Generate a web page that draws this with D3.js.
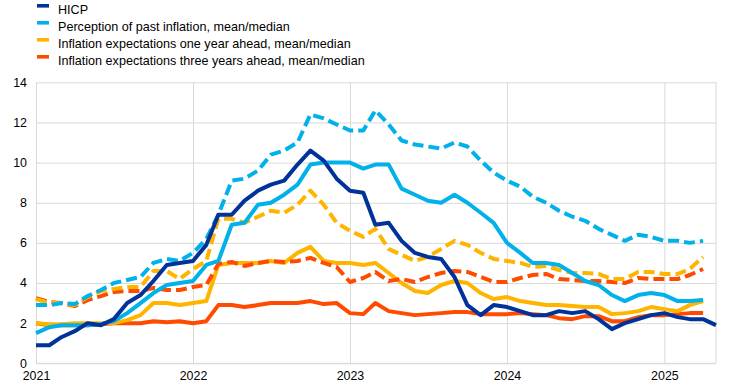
<!DOCTYPE html>
<html>
<head>
<meta charset="utf-8">
<script src="https://cdn.jsdelivr.net/npm/d3@7"></script>
<style>
    body { margin: 0; background: #fff; }
    text { font-family: Arial, "Liberation Sans", sans-serif; }
</style>
</head>
<body>
<div id="chart"></div>
<script>
// data: monthly, starting January 2021
const startMonth = new Date(2021, 0, 1);
const yearTicks = ['2021', '2022', '2023', '2024', '2025'];
const yTicks = [0, 2, 4, 6, 8, 10, 12, 14];

const seriesNames = [
    'HICP',
    'Perception of past inflation, mean/median',
    'Inflation expectations one year ahead, mean/median',
    'Inflation expectations three years ahead, mean/median'
];

const hicp = [0.9, 0.9, 1.3, 1.6, 2.0, 1.9, 2.2, 3.0, 3.4, 4.1, 4.9, 5.0,
    5.1, 5.9, 7.4, 7.4, 8.1, 8.6, 8.9, 9.1, 9.9, 10.6, 10.1, 9.2,
    8.6, 8.5, 6.9, 7.0, 6.1, 5.5, 5.3, 5.2, 4.3, 2.9, 2.4, 2.9,
    2.8, 2.6, 2.4, 2.4, 2.6, 2.5, 2.6, 2.2, 1.7, 2.0, 2.2, 2.4,
    2.5, 2.3, 2.2, 2.2, 1.9];

const pastMedian = [1.5, 1.8, 1.9, 1.9, 1.9, 1.95, 2.1, 2.5, 3.0, 3.5, 3.9, 4.0,
    4.1, 4.9, 5.1, 6.9, 7.0, 7.9, 8.0, 8.4, 8.9, 9.9, 10.0, 10.0,
    10.0, 9.7, 9.9, 9.9, 8.7, 8.4, 8.1, 8.0, 8.4, 8.0, 7.5, 7.0,
    6.0, 5.5, 5.0, 5.0, 4.9, 4.5, 4.1, 3.9, 3.4, 3.1, 3.4, 3.5,
    3.4, 3.1, 3.1, 3.15];

const pastMean = [2.9, 2.9, 3.0, 2.95, 3.35, 3.65, 4.0, 4.15, 4.3, 5.0, 5.2, 5.1,
    5.5, 6.2, 7.4, 9.1, 9.2, 9.6, 10.4, 10.6, 11.0, 12.4, 12.2, 11.9,
    11.6, 11.6, 12.6, 11.9, 11.1, 10.9, 10.8, 10.7, 11.0, 10.8, 10.1, 9.5,
    9.1, 8.8, 8.3, 8.0, 7.6, 7.3, 7.1, 6.7, 6.4, 6.1, 6.4, 6.3,
    6.1, 6.1, 6.0, 6.1];

const oneYearMedian = [2.0, 1.95, 1.95, 2.0, 2.0, 2.0, 2.0, 2.15, 2.4, 3.0, 3.0, 2.9,
    3.0, 3.1, 4.9, 5.0, 5.0, 5.0, 5.1, 5.0, 5.5, 5.8, 5.1, 5.0,
    5.0, 4.9, 5.0, 4.5, 4.0, 3.6, 3.5, 3.9, 4.1, 4.0, 3.5, 3.2,
    3.3, 3.1, 3.0, 2.9, 2.9, 2.85, 2.8, 2.8, 2.45, 2.5, 2.6, 2.8,
    2.7, 2.6, 2.9, 3.1];

const oneYearMean = [3.2, 3.0, 3.0, 2.9, 3.3, 3.6, 3.7, 3.8, 3.8, 4.6, 4.6, 4.2,
    4.7, 5.1, 7.2, 7.2, 7.0, 7.3, 7.6, 7.5, 7.9, 8.6, 7.9, 7.0,
    6.6, 6.3, 6.7, 5.7, 5.4, 5.1, 5.3, 5.7, 6.1, 5.9, 5.5, 5.2,
    5.1, 5.0, 4.8, 4.85, 4.65, 4.5, 4.5, 4.45, 4.2, 4.2, 4.55, 4.55,
    4.45, 4.45, 4.7, 5.3];

const threeYearMedian = [2.0, 1.9, 1.9, 1.9, 1.9, 1.95, 2.0, 2.0, 2.0, 2.1, 2.05, 2.1,
    2.0, 2.1, 2.9, 2.9, 2.8, 2.9, 3.0, 3.0, 3.0, 3.1, 2.95, 3.0,
    2.5, 2.45, 3.0, 2.6, 2.5, 2.4, 2.45, 2.5, 2.55, 2.55, 2.45, 2.45,
    2.45, 2.5, 2.45, 2.4, 2.25, 2.2, 2.35, 2.35, 2.1, 2.1, 2.3, 2.4,
    2.4, 2.45, 2.5, 2.5];

const threeYearMean = [3.25, 3.05, 3.0, 2.85, 3.15, 3.35, 3.55, 3.6, 3.6, 3.75, 3.65, 3.65,
    3.8, 3.9, 4.95, 5.05, 4.85, 5.0, 5.1, 5.05, 5.1, 5.25, 5.0, 4.8,
    4.05, 4.25, 4.55, 4.1, 4.2, 4.05, 4.3, 4.5, 4.6, 4.55, 4.3, 4.05,
    4.05, 4.25, 4.4, 4.45, 4.2, 4.15, 4.1, 4.1, 4.05, 4.0, 4.25, 4.2,
    4.2, 4.2, 4.4, 4.7];

const draw = () => {
    const colors = ['#003299', '#00b1ea', '#ffb400', '#ff4b00'];

    // drawing order: back to front
    const lines = [
        { values: threeYearMedian, color: colors[3], dashed: false },
        { values: oneYearMedian, color: colors[2], dashed: false },
        { values: threeYearMean, color: colors[3], dashed: true },
        { values: oneYearMean, color: colors[2], dashed: true },
        { values: pastMean, color: colors[1], dashed: true },
        { values: pastMedian, color: colors[1], dashed: false },
        { values: hicp, color: colors[0], dashed: false },
    ];

    const dimensions = {
        width: 743,
        height: 388,
        margin: { top: 82.3, bottom: 24.7, left: 36, right: 27 }
    };
    dimensions.containerWidth = dimensions.width - dimensions.margin.left - dimensions.margin.right;
    dimensions.containerHeight = dimensions.height - dimensions.margin.top - dimensions.margin.bottom;

    const svg = d3.select('#chart')
        .append('svg')
        .attr('width', dimensions.width)
        .attr('height', dimensions.height);

    // legend
    const legend = svg.append('g');
    const legendRows = legend.selectAll('g')
        .data(seriesNames)
        .join('g')
        .attr('transform', (d, i) => `translate(37, ${4 + i * 17})`);
    legendRows.append('rect')
        .attr('width', 12)
        .attr('height', 3.6)
        .attr('fill', (d, i) => colors[i]);
    legendRows.append('text')
        .attr('x', 21)
        .attr('y', 9.6)
        .attr('font-size', 12.6)
        .attr('fill', '#000')
        .text(d => d);

    const container = svg.append('g')
        .attr('transform', `translate(${dimensions.margin.left}, ${dimensions.margin.top})`);

    // scales
    const xScale = d3.scaleTime()
        .domain([startMonth, new Date(2025, 4, 1)])
        .range([0, dimensions.containerWidth]);

    const yScale = d3.scaleLinear()
        .domain([0, 14])
        .range([dimensions.containerHeight, 0]);

    const monthDate = i => d3.timeMonth.offset(startMonth, i);

    // grid + axes
    const yAxis = d3.axisLeft(yScale)
        .tickValues(yTicks)
        .tickSize(-dimensions.containerWidth)
        .tickPadding(9);
    const yAxisGroup = container.append('g').call(yAxis);
    yAxisGroup.select('.domain').remove();
    yAxisGroup.selectAll('line').attr('stroke', '#d9d9d9');
    yAxisGroup.selectAll('text').attr('font-size', 12.4).attr('fill', '#000').attr('font-family', 'Arial, "Liberation Sans", sans-serif');

    const yearDates = yearTicks.map(y => new Date(+y, 0, 1));
    const xAxis = d3.axisBottom(xScale)
        .tickValues(yearDates)
        .tickSize(-dimensions.containerHeight)
        .tickPadding(8)
        .tickFormat(d3.timeFormat('%Y'));
    const xAxisGroup = container.append('g')
        .attr('transform', `translate(0, ${dimensions.containerHeight})`)
        .call(xAxis);
    xAxisGroup.select('.domain').remove();
    xAxisGroup.selectAll('line').attr('stroke', '#d9d9d9');
    xAxisGroup.selectAll('text').attr('font-size', 12.4).attr('fill', '#000').attr('font-family', 'Arial, "Liberation Sans", sans-serif');

    // frame lines (right, bottom)
    container.append('line')
        .attr('x1', dimensions.containerWidth).attr('x2', dimensions.containerWidth)
        .attr('y1', 0).attr('y2', dimensions.containerHeight)
        .attr('stroke', '#d9d9d9');
    container.append('line')
        .attr('x1', 0).attr('x2', dimensions.containerWidth)
        .attr('y1', dimensions.containerHeight).attr('y2', dimensions.containerHeight)
        .attr('stroke', '#d9d9d9');

    // lines
    const lineGenerator = d3.line()
        .x((d, i) => xScale(monthDate(i)))
        .y(d => yScale(d));

    container.selectAll('path.series')
        .data(lines)
        .join('path')
        .attr('class', 'series')
        .attr('d', d => lineGenerator(d.values))
        .attr('fill', 'none')
        .attr('stroke', d => d.color)
        .attr('stroke-width', 4)
        .attr('stroke-linejoin', 'round')
        .attr('stroke-dasharray', d => d.dashed ? '11,5' : null);
};

draw();
</script>
</body>
</html>
